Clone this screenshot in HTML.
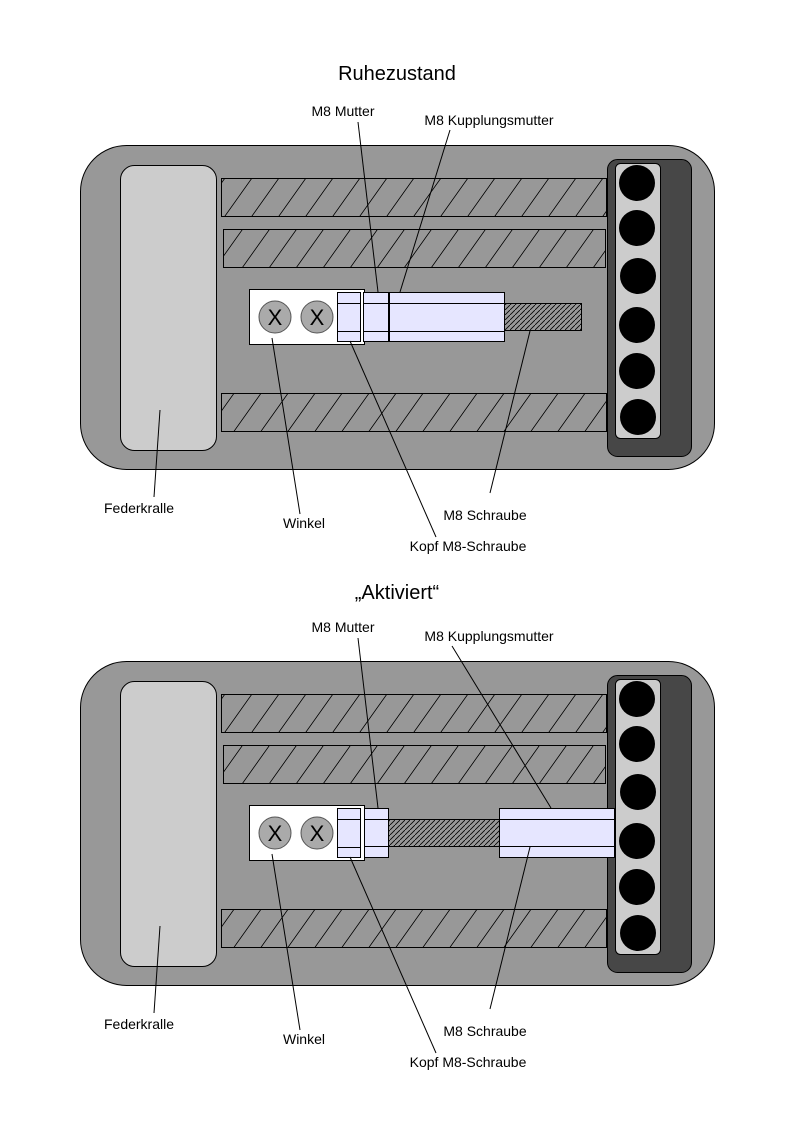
<!DOCTYPE html>
<html><head><meta charset="utf-8"><style>
html,body{margin:0;padding:0;background:#fff;}
svg{display:block;}
text{font-family:"Liberation Sans",Arial,sans-serif;fill:#000;}
</style></head><body>
<svg width="794" height="1123" viewBox="0 0 794 1123" xmlns="http://www.w3.org/2000/svg">
<defs>
<pattern id="h1" patternUnits="userSpaceOnUse" width="27" height="10" patternTransform="skewX(-35.4)">
<line x1="0.5" y1="-1" x2="0.5" y2="11" stroke="#000" stroke-width="1"/>
</pattern>
<pattern id="h2" patternUnits="userSpaceOnUse" width="5" height="5">
<line x1="-1" y1="6" x2="6" y2="-1" stroke="#000" stroke-width="0.8"/>
</pattern>
<g id="base">
<rect x="80.5" y="145.5" width="634" height="324" rx="46" fill="#989898" stroke="#000"/>
<rect x="120.5" y="165.5" width="96" height="285" rx="14" fill="#cccccc" stroke="#000"/>
<rect x="221.5" y="178.5" width="385" height="38" fill="url(#h1)" stroke="#000"/>
<rect x="223.5" y="229.5" width="382" height="38" fill="url(#h1)" stroke="#000"/>
<rect x="221.5" y="393.5" width="385" height="38" fill="url(#h1)" stroke="#000"/>
<rect x="607.5" y="159.5" width="84" height="297" rx="10" fill="#474747" stroke="#000"/>
<rect x="615.5" y="163.5" width="45" height="275" rx="5" fill="#cccccc" stroke="#000"/>
<circle cx="637" cy="183" r="18" fill="#000"/>
<circle cx="637" cy="228" r="18" fill="#000"/>
<circle cx="638" cy="276" r="18" fill="#000"/>
<circle cx="637" cy="325" r="18" fill="#000"/>
<circle cx="637" cy="371" r="18" fill="#000"/>
<circle cx="638" cy="417" r="18" fill="#000"/>
<rect x="249.5" y="289.5" width="115" height="55" fill="#fff" stroke="#000"/>
<circle cx="275" cy="317" r="16" fill="#aaa" stroke="#555"/>
<circle cx="317" cy="317" r="16" fill="#aaa" stroke="#555"/>
<text x="275" y="325" font-size="22" text-anchor="middle">X</text>
<text x="317" y="325" font-size="22" text-anchor="middle">X</text>
<rect x="337.5" y="292.5" width="23" height="49" fill="#e6e6ff" stroke="#000"/>
<line x1="337" y1="303.5" x2="360" y2="303.5" stroke="#000"/>
<line x1="337" y1="331.5" x2="360" y2="331.5" stroke="#000"/>
</g>
</defs>

<!-- TOP -->
<text x="397" y="80" font-size="20" text-anchor="middle">Ruhezustand</text>
<use href="#base"/>
<rect x="504.5" y="303.5" width="77" height="27" fill="#999" stroke="#000"/>
<rect x="504.5" y="303.5" width="77" height="27" fill="url(#h2)"/>
<rect x="363.5" y="292.5" width="141" height="49" fill="#e6e6ff" stroke="#000"/>
<line x1="363" y1="303.5" x2="504" y2="303.5" stroke="#000"/>
<line x1="363" y1="331.5" x2="504" y2="331.5" stroke="#000"/>
<line x1="389" y1="292" x2="389" y2="342" stroke="#000" stroke-width="2"/>
<line x1="358" y1="122" x2="378" y2="292" stroke="#000"/>
<line x1="450" y1="130" x2="400" y2="292" stroke="#000"/>
<line x1="154" y1="497" x2="160" y2="410" stroke="#000"/>
<line x1="300" y1="514" x2="272" y2="338" stroke="#000"/>
<line x1="490" y1="493" x2="530" y2="331" stroke="#000"/>
<line x1="436" y1="537" x2="350" y2="341" stroke="#000"/>
<text x="343" y="116" font-size="14" text-anchor="middle">M8 Mutter</text>
<text x="489" y="125" font-size="14" text-anchor="middle">M8 Kupplungsmutter</text>
<text x="139" y="513" font-size="14" text-anchor="middle">Federkralle</text>
<text x="304" y="528" font-size="14" text-anchor="middle">Winkel</text>
<text x="485" y="520" font-size="14" text-anchor="middle">M8 Schraube</text>
<text x="468" y="551" font-size="14" text-anchor="middle">Kopf M8-Schraube</text>

<!-- BOTTOM -->
<text x="397" y="599" font-size="20" text-anchor="middle">„Aktiviert“</text>
<use href="#base" transform="translate(0,516)"/>
<rect x="388.5" y="819.5" width="111" height="27" fill="#999" stroke="#000"/>
<rect x="388.5" y="819.5" width="111" height="27" fill="url(#h2)"/>
<rect x="364.5" y="808.5" width="24" height="49" fill="#e6e6ff" stroke="#000"/>
<line x1="364" y1="819.5" x2="388" y2="819.5" stroke="#000"/>
<line x1="364" y1="846.5" x2="388" y2="846.5" stroke="#000"/>
<rect x="499.5" y="808.5" width="115" height="49" fill="#e6e6ff" stroke="#000"/>
<line x1="499" y1="819.5" x2="614" y2="819.5" stroke="#000"/>
<line x1="499" y1="846.5" x2="614" y2="846.5" stroke="#000"/>
<line x1="358" y1="638" x2="378" y2="808" stroke="#000"/>
<line x1="452" y1="646" x2="551" y2="808" stroke="#000"/>
<line x1="154" y1="1013" x2="160" y2="926" stroke="#000"/>
<line x1="300" y1="1030" x2="272" y2="854" stroke="#000"/>
<line x1="490" y1="1009" x2="530" y2="847" stroke="#000"/>
<line x1="436" y1="1053" x2="350" y2="857" stroke="#000"/>
<text x="343" y="632" font-size="14" text-anchor="middle">M8 Mutter</text>
<text x="489" y="641" font-size="14" text-anchor="middle">M8 Kupplungsmutter</text>
<text x="139" y="1029" font-size="14" text-anchor="middle">Federkralle</text>
<text x="304" y="1044" font-size="14" text-anchor="middle">Winkel</text>
<text x="485" y="1036" font-size="14" text-anchor="middle">M8 Schraube</text>
<text x="468" y="1067" font-size="14" text-anchor="middle">Kopf M8-Schraube</text>
</svg>
</body></html>
